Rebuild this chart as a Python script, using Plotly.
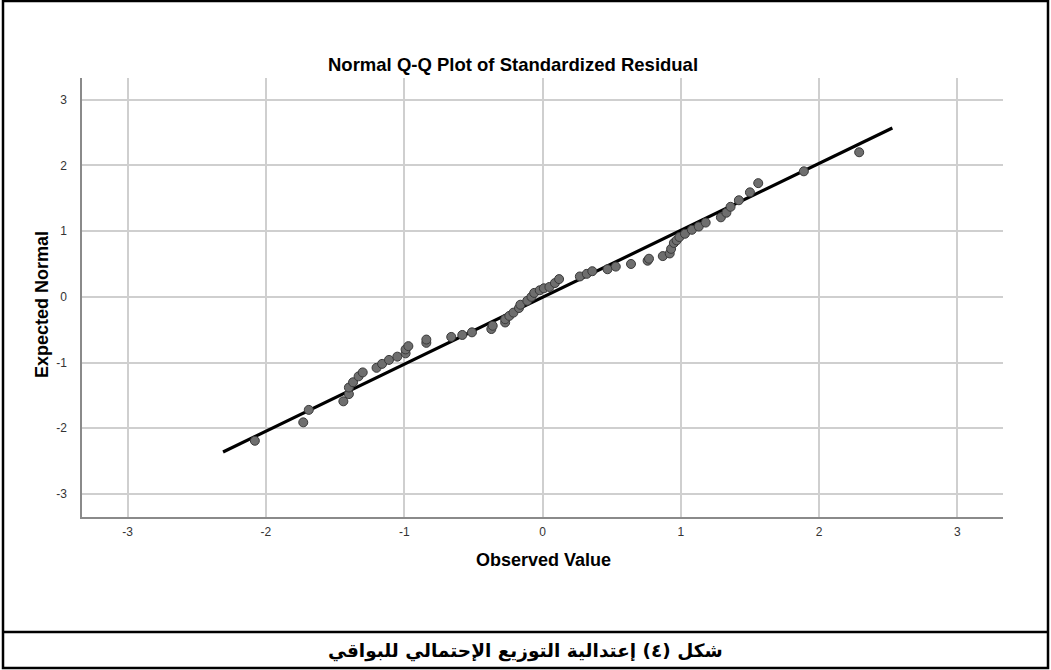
import plotly.graph_objects as go

# Data
observed = [-2.08, -1.73, -1.69, -1.44, -1.40, -1.40, -1.37, -1.33, -1.30, -1.20,
            -1.16, -1.11, -1.05, -0.99, -0.99, -0.97, -0.84, -0.84, -0.66, -0.58,
            -0.51, -0.37, -0.36, -0.27, -0.27, -0.24, -0.21, -0.17, -0.16, -0.11,
            -0.08, -0.06, -0.02, 0.01, 0.05, 0.09, 0.12, 0.27, 0.32, 0.36,
            0.47, 0.53, 0.64, 0.76, 0.77, 0.87, 0.92, 0.93, 0.95, 0.97,
            0.99, 1.03, 1.08, 1.13, 1.18, 1.29, 1.33, 1.36, 1.42, 1.50,
            1.56, 1.89, 2.29]
expected = [-2.19, -1.91, -1.72, -1.59, -1.48, -1.38, -1.30, -1.21, -1.15, -1.08,
            -1.02, -0.96, -0.91, -0.86, -0.80, -0.75, -0.70, -0.65, -0.61, -0.58,
            -0.54, -0.49, -0.44, -0.39, -0.34, -0.29, -0.24, -0.17, -0.12, -0.06,
            0.00, 0.06, 0.10, 0.13, 0.15, 0.21, 0.27, 0.31, 0.35, 0.39,
            0.42, 0.46, 0.50, 0.55, 0.58, 0.62, 0.66, 0.73, 0.82, 0.86,
            0.91, 0.96, 1.02, 1.07, 1.13, 1.21, 1.28, 1.37, 1.47, 1.59,
            1.73, 1.91, 2.20]
line_x = [-2.31, 2.53]
line_y = [-2.36, 2.57]
tick_vals = [-3, -2, -1, 0, 1, 2, 3]
tick_text = ["-3", "-2", "-1", "0", "1", "2", "3"]

chart_title = "Normal Q-Q Plot of Standardized Residual"
x_title = "Observed Value"
y_title = "Expected Normal"
caption = "شكل (٤) إعتدالية التوزيع الإحتمالي للبواقي"

W, H = 1051, 670
L, R, T, B = 82, 1003, 78, 517
PW, PH = R - L, B - T


def px(x):
    return (x - L) / PW


def py(y):
    return (B - y) / PH


fig = go.Figure()
fig.add_trace(go.Scatter(x=line_x, y=line_y, mode="lines",
                         line=dict(color="black", width=3.2),
                         hoverinfo="skip", showlegend=False))
fig.add_trace(go.Scatter(x=observed, y=expected, mode="markers",
                         marker=dict(size=9, color="#6e6e6e",
                                     line=dict(color="#3a3a3a", width=1)),
                         showlegend=False))

axis_common = dict(showgrid=True, gridcolor="#cfcfcf", gridwidth=1.5,
                   zeroline=False, showline=True, linecolor="#8a8a8a",
                   linewidth=1.5, tickvals=tick_vals, ticktext=tick_text,
                   tickfont=dict(family="Liberation Sans", size=12, color="#333333"),
                   ticks="", mirror=False)

fig.update_layout(
    width=W, height=H,
    margin=dict(l=L, r=W - R, t=T, b=H - B, pad=0),
    paper_bgcolor="white", plot_bgcolor="white",
    xaxis=dict(range=[-3.33, 3.33], ticklabelstandoff=3, **axis_common),
    yaxis=dict(range=[-3.35, 3.33], ticklabelstandoff=11, **axis_common),
    showlegend=False,
)

ann = dict(xref="paper", yref="paper", showarrow=False,
           xanchor="center", yanchor="middle")
fig.add_annotation(text="<b>" + chart_title + "</b>", x=px(513), y=py(64),
                   font=dict(family="Liberation Sans", size=18.5, color="black"), **ann)
fig.add_annotation(text="<b>" + x_title + "</b>", x=px(543), y=py(560),
                   font=dict(family="Liberation Sans", size=18, color="black"), **ann)
fig.add_annotation(text="<b>" + y_title + "</b>", x=px(42), y=py(305), textangle=-90,
                   font=dict(family="Liberation Sans", size=18, color="black"), **ann)
fig.add_annotation(text="<b>" + caption + "</b>", x=px(525), y=py(651),
                   font=dict(family="DejaVu Sans", size=18.5, color="black"), **ann)

# Outer frame and caption separator
fig.add_shape(type="rect", xref="paper", yref="paper",
              x0=px(3), x1=px(1048), y0=py(668), y1=py(1),
              line=dict(color="black", width=2.5))
fig.add_shape(type="line", xref="paper", yref="paper",
              x0=px(3), x1=px(1048), y0=py(632), y1=py(632),
              line=dict(color="black", width=2.5))

fig.write_html("out.html", config={"displayModeBar": False},
               post_script="document.body.style.margin='0';")
